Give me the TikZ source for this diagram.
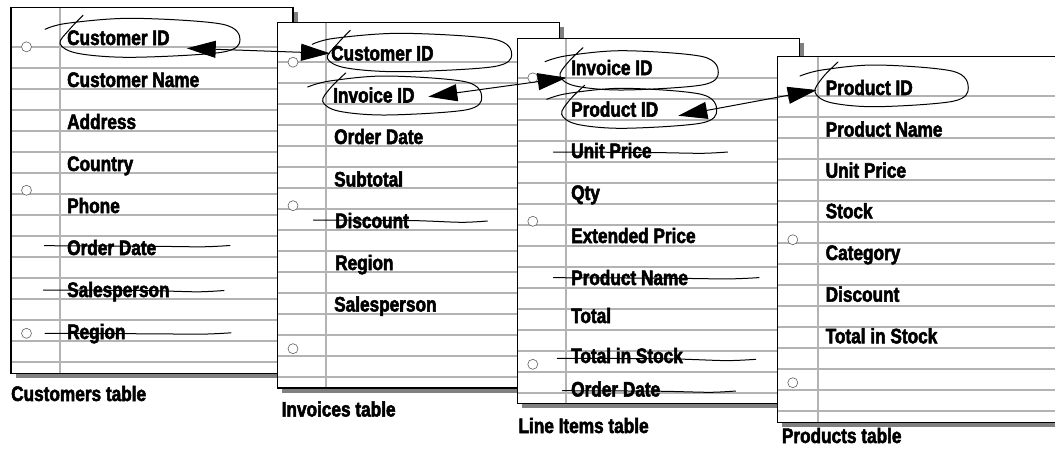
\documentclass[tikz,border=0pt]{standalone}
\usepackage{fontspec}
\setmainfont{Liberation Sans}[FakeStretch=0.82,FakeBold=2.4]
\usetikzlibrary{arrows.meta}
\definecolor{rulegray}{HTML}{B3B3B3}
\definecolor{shadegray}{HTML}{808080}
\definecolor{holegray}{HTML}{606060}
\tikzset{
  ruleline/.style={rulegray, line width=1.8pt},
  sheetedge/.style={black, line width=1.2pt},
  holestyle/.style={holegray, line width=0.6pt, fill=white},
  handline/.style={black, line width=1pt, line cap=round},
  field/.style={anchor=base west, inner sep=0pt, font=\bfseries\fontsize{21}{22}\selectfont},
  linkarrow/.style={black, line width=1pt, {Triangle[length=29pt,width=17pt]}-{Triangle[length=29pt,width=17pt]}}
}
\newcommand\papersheet[5]{% L T R B M
  \fill[shadegray] ({#1+4.5},{#2+4.5}) rectangle ({#3+4.5},{#4+4.5});
  \fill[white] (#1,#2) rectangle (#3,#4);
  \foreach \k in {0,...,15} \draw[ruleline] (#1,{#2+39.3+21*\k}) -- (#3,{#2+39.3+21*\k});
  \draw[ruleline] (#5,#2) -- (#5,#4);
  \draw[sheetedge] (#1,#2) rectangle (#3,#4);
  \foreach \dy in {39.5,183,326} \draw[holestyle] ({#1+15.5},{#2+\dy}) circle[radius=5];
}
\newcommand\strikeout[4]{% x1 y1 x2 y2
  \draw[handline] plot[smooth,tension=0.5] coordinates {(#1,#2) ({#1+0.55*(#3-#1)},{#2+0.5}) ({#1+0.85*(#3-#1)},{#4+1.3}) (#3,#4)};
}
\newcommand\handloop[4]{% xl xr yt yb
  \pgfmathsetmacro\hw{#2-#1}\pgfmathsetmacro\hh{#4-#3}
  \draw[handline] plot[smooth,tension=0.55] coordinates {
    ({#1-15},{#3+11}) ({#1+7},{#3+5}) ({#1+0.4*\hw},#3) ({#2-0.1*\hw},{#3+0.15*\hh})
    (#2,{#3+0.55*\hh}) ({#2-0.1*\hw},{#3+0.87*\hh}) ({#1+0.4*\hw},#4) ({#1+0.1*\hw},{#4-0.1*\hh})
    (#1,{#3+0.65*\hh}) ({#1+0.05*\hw},{#3+0.3*\hh}) ({#1+23},{#3-3})};
}
\begin{document}
\begin{tikzpicture}[x=1pt,y=-1pt]
\useasboundingbox (0,0) rectangle (1055,453);
\clip (0,0) rectangle (1055,453);
% ---------- Customers table
\papersheet{11}{7.3}{293}{373.3}{60}
\node[field] (c1) at (67,45) {Customer ID};
\node[field] (c2) at (67,87) {Customer Name};
\node[field] (c3) at (67,129) {Address};
\node[field] (c4) at (67,171) {Country};
\node[field] (c5) at (67,213) {Phone};
\node[field] (c6) at (67,255) {Order Date};
\node[field] (c7) at (67,297) {Salesperson};
\node[field] (c8) at (67,339) {Region};
\strikeout{44.3}{245.7}{230}{245.5}
\strikeout{43.3}{290}{224}{290.5}
\strikeout{45}{333.3}{231}{332.8}
\handloop{60}{240}{18.3}{57.3}
\node[field] (cap1) at (11,401) {Customers table};
% ---------- Invoices table
\papersheet{277.5}{22.7}{559.3}{388}{326}
\node[field] (i1) at (331,60.5) {Customer ID};
\node[field] (i2) at (333,102.5) {Invoice ID};
\node[field] (i3) at (334,144) {Order Date};
\node[field] (i4) at (334,186.5) {Subtotal};
\node[field] (i5) at (335,228) {Discount};
\node[field] (i6) at (335,270) {Region};
\node[field] (i7) at (334,311.5) {Salesperson};
\strikeout{313.3}{220}{487.3}{221}
\handloop{327.3}{511.7}{33.3}{71.7}
\handloop{322.7}{481.7}{76}{115}
\node[field] (cap2) at (281.5,416.5) {Invoices table};
% ---------- Line Items table
\papersheet{517.3}{38.3}{799.5}{403.3}{565.7}
\node[field] (l1) at (571,75) {Invoice ID};
\node[field] (l2) at (571,116.7) {Product ID};
\node[field] (l3) at (571,158) {Unit Price};
\node[field] (l4) at (571,200) {Qty};
\node[field] (l5) at (571,243) {Extended Price};
\node[field] (l6) at (571,285) {Product Name};
\node[field] (l7) at (571,323) {Total};
\node[field] (l8) at (571,363) {Total in Stock};
\node[field] (l9) at (571,396.5) {Order Date};
\strikeout{553.3}{152}{727.7}{152}
\strikeout{553.3}{277.7}{759}{277.6}
\strikeout{557.3}{358.3}{755.7}{359.3}
\strikeout{562.3}{390.7}{735.7}{391}
\handloop{560}{718.3}{50.7}{90}
\handloop{561.7}{716.7}{88.3}{128.3}
\node[field] (cap3) at (518.3,433) {Line Items table};
% ---------- Products table
\papersheet{777.3}{56.7}{1070}{422.5}{817.7}
\node[field] (p1) at (825.5,95) {Product ID};
\node[field] (p2) at (825.5,136.7) {Product Name};
\node[field] (p3) at (825.5,177.7) {Unit Price};
\node[field] (p4) at (825.5,218.3) {Stock};
\node[field] (p5) at (825.5,260) {Category};
\node[field] (p6) at (825.5,301.7) {Discount};
\node[field] (p7) at (825.5,343.3) {Total in Stock};
\handloop{815}{968.3}{65}{106.7}
\node[field] (cap4) at (781.7,443) {Products table};
% ---------- links
\coordinate (a1s) at (186.7,48.3);
\coordinate (a1e) at (330,53.3);
\coordinate (a2s) at (428.3,96.7);
\coordinate (a2e) at (566.7,77.7);
\coordinate (a3s) at (678.3,115.7);
\coordinate (a3e) at (816.7,90);
\draw[linkarrow] (a1s) -- (a1e);
\draw[linkarrow] (a2s) -- (a2e);
\draw[linkarrow] (a3s) -- (a3e);
\end{tikzpicture}
\end{document}
